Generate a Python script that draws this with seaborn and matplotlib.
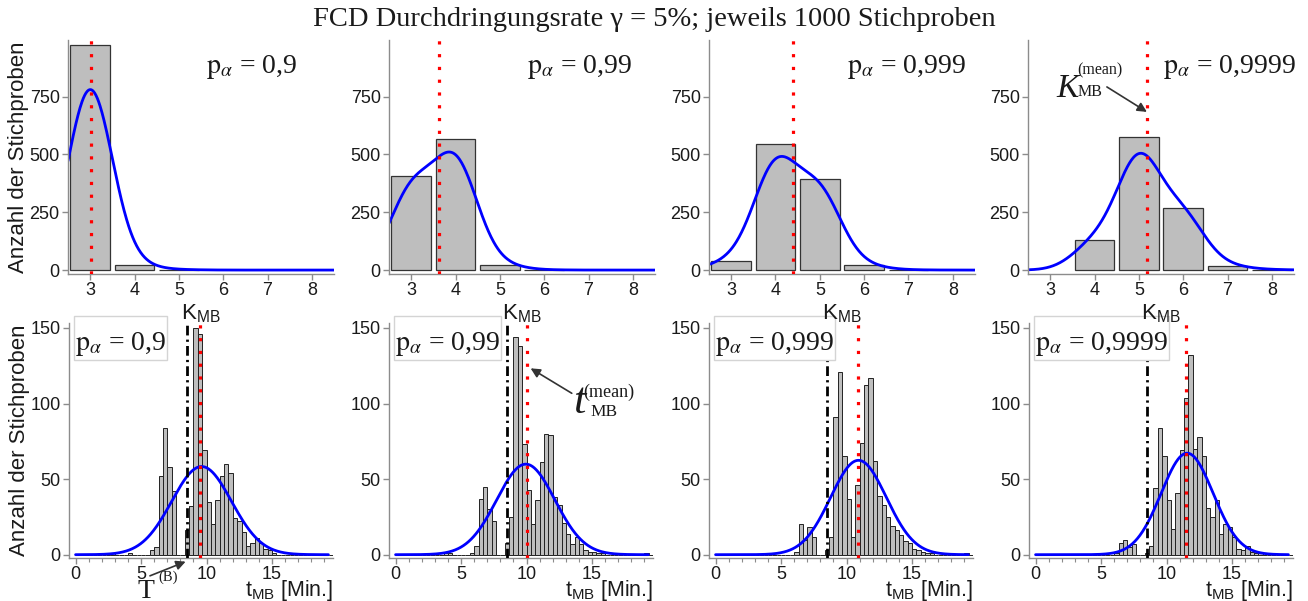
import numpy as np
import pandas as pd
import matplotlib
matplotlib.use("Agg")
import matplotlib.pyplot as plt
from matplotlib.path import Path
import seaborn as sns

# ---------------- data ----------------
title_text = "FCD Durchdringungsrate γ = 5%; jeweils 1000 Stichproben"
p_alpha = ["0,9", "0,99", "0,999", "0,9999"]

k_values = [3, 4, 5, 6, 7, 8]
k_counts_09 = [975, 23, 2, 0, 0, 0]
k_counts_099 = [408, 567, 24, 1, 0, 0]
k_counts_0999 = [40, 544, 395, 20, 1, 0]
k_counts_09999 = [0, 132, 577, 270, 19, 2]
k_counts = [k_counts_09, k_counts_099, k_counts_0999, k_counts_09999]
kde_bw = 0.5

t_binwidth = 1 / 3          # minutes (20 s bins)
t_first_bin = 17            # first listed bin starts at 17/3 min
t_counts_09 = [3, 5, 52, 84, 58, 42, 0, 0, 16, 32, 150, 146, 69, 35, 20, 36, 52, 60,
               54, 24, 22, 15, 6, 8, 11, 8, 4, 3, 1, 0, 0, 0, 0, 0, 0, 0]
t_counts_099 = [1, 6, 37, 45, 30, 22, 0, 0, 8, 25, 144, 138, 73, 43, 20, 36, 61, 80,
                79, 38, 33, 21, 14, 7, 12, 7, 3, 2, 2, 1, 1, 0, 0, 0, 0, 0]
t_counts_0999 = [0, 2, 20, 10, 18, 12, 0, 0, 3, 12, 91, 121, 65, 37, 12, 46, 74, 112,
                 117, 62, 39, 33, 25, 19, 16, 13, 9, 8, 4, 3, 2, 1, 1, 0, 0, 0]
t_counts_09999 = [0, 1, 8, 10, 5, 7, 0, 0, 1, 6, 44, 84, 65, 36, 17, 41, 69, 104,
                  132, 70, 78, 65, 31, 25, 36, 14, 20, 18, 12, 4, 3, 6, 2, 1, 1, 0]
t_counts = [t_counts_09, t_counts_099, t_counts_0999, t_counts_09999]
t_single = [[2.8, 4.2], [3.7, 4.3, 19.0], [19.0], []]
t_mean = [9.49, 10.06, 10.84, 11.47]        # red dotted lines
t_fit_mu = [9.62, 9.94, 10.91, 11.57]       # blue fitted density
t_fit_sd = [2.28, 2.22, 2.13, 1.98]
t_fit_n = 1000
T_B = 8.5

# ---------------- style ----------------
sns.set_theme(style="ticks")
plt.rcParams["font.family"] = ["Liberation Sans", "DejaVu Sans"]
plt.rcParams["mathtext.fontset"] = "custom"
plt.rcParams["mathtext.rm"] = "Liberation Sans"
plt.rcParams["mathtext.it"] = "Liberation Sans:italic"
plt.rcParams["mathtext.bf"] = "Liberation Sans:bold"

AX_COL = "#8c8c8c"
BAR_COL = "#bebebe"
TXT = "#1a1a1a"
SERIF = ["Liberation Serif", "DejaVu Serif"]
ARROW = dict(arrowstyle="-|>", color="#333333", lw=1.2, mutation_scale=14,
             shrinkA=0, shrinkB=0)

fig = plt.figure(figsize=(13.08, 6.01), dpi=100)
W, H = 1308, 601

fig.text(0.5, 1 - 20 / H, title_text, ha="center", va="center",
         fontsize=20.5, family=SERIF, color=TXT)

top_left = [68, 389, 709, 1028]
bot_left = [69, 389, 709, 1029]
top_lab_x = [0.52, 0.52, 0.52, 0.508]


def label_box(x0, y0, width, height, mutation_size):
    l = r = 0.04 * mutation_size
    t = 0.5 * mutation_size
    b = 0.06 * mutation_size
    return Path([(x0 - l, y0 - b), (x0 + width + r, y0 - b),
                 (x0 + width + r, y0 + height + t), (x0 - l, y0 + height + t),
                 (x0 - l, y0 - b)], closed=True)


def style_axis(ax):
    sns.despine(ax=ax)
    for s in ("left", "bottom"):
        ax.spines[s].set_color(AX_COL)
        ax.spines[s].set_linewidth(1.0)
    ax.tick_params(axis="both", which="major", colors=AX_COL, labelcolor=TXT,
                   labelsize=13, length=4, width=1, pad=2)


# ---------------- top row ----------------
for i in range(4):
    ax = fig.add_axes([top_left[i] / W, 1 - 274 / H, 266 / W, 234 / H], zorder=3)
    df = pd.DataFrame({"K": k_values, "n": k_counts[i]})
    df = df[df["n"] > 0]
    sns.histplot(data=df, x="K", weights="n", discrete=True, shrink=0.9,
                 color=BAR_COL, edgecolor="#333333", linewidth=0.9, alpha=1, ax=ax)
    grid = np.linspace(2.5, 8.5, 400)
    ks = np.array(k_values, float)
    ns = np.array(k_counts[i], float)
    dens = (ns[None, :] * np.exp(-0.5 * ((grid[:, None] - ks[None, :]) / kde_bw) ** 2)).sum(1)
    dens = dens / (kde_bw * np.sqrt(2 * np.pi))
    sns.lineplot(x=grid, y=dens, color="blue", lw=2, ax=ax)
    k_mean = (ks * ns).sum() / ns.sum()
    ax.axvline(k_mean, color="red", lw=2.3, ls=(0, (1, 3)), zorder=5)
    ax.set_xlim(2.5, 8.5)
    ax.set_ylim(-17, 995)
    ax.set_xticks(range(3, 9))
    ax.set_yticks([0, 250, 500, 750])
    style_axis(ax)
    ax.set_xlabel(r"K$_{\mathrm{MB}}$", fontsize=16, color=TXT, labelpad=2)
    ax.set_ylabel("Anzahl der Stichproben" if i == 0 else "", fontsize=16, color=TXT,
                  labelpad=0.5)
    ax.text(top_lab_x[i], 0.885, r"$\mathrm{p}_{\alpha}$ = " + p_alpha[i],
            transform=ax.transAxes, family=SERIF, math_fontfamily="stix", fontsize=20,
            ha="left", va="center", color=TXT)
    if i == 3:
        ax.text(3.15, 748, "K", family=SERIF, style="italic", fontsize=24, color=TXT,
                ha="left", va="baseline")
        ax.text(3.62, 846, "(mean)", family=SERIF, fontsize=11.5, color=TXT,
                ha="left", va="baseline")
        ax.text(3.62, 752, "MB", family=SERIF, fontsize=11.5, color=TXT,
                ha="left", va="baseline")
        ax.annotate("", xy=(k_mean, 684), xytext=(4.28, 792), arrowprops=ARROW)

# ---------------- bottom row ----------------
for i in range(4):
    ax = fig.add_axes([bot_left[i] / W, 1 - 558 / H, 264 / W, 235 / H], zorder=1)
    counts = np.array(t_counts[i], float)
    centers = (np.arange(t_first_bin, t_first_bin + len(counts)) + 0.5) * t_binwidth
    vals = np.concatenate([centers, np.array(t_single[i], float)])
    wts = np.concatenate([counts, np.ones(len(t_single[i]))])
    keep = wts > 0
    tdf = pd.DataFrame({"t": vals[keep], "n": wts[keep]})
    sns.histplot(data=tdf, x="t", weights="n", binwidth=t_binwidth, binrange=(0, 20),
                 color=BAR_COL, edgecolor="#222222", linewidth=0.7, alpha=1, ax=ax)
    grid = np.linspace(0, 19.3, 500)
    mu, sd = t_fit_mu[i], t_fit_sd[i]
    curve = t_fit_n * t_binwidth * np.exp(-0.5 * ((grid - mu) / sd) ** 2) / (sd * np.sqrt(2 * np.pi))
    sns.lineplot(x=grid, y=curve, color="blue", lw=2, ax=ax)
    ax.axvline(T_B, color="black", lw=2, ls=(0, (3.5, 1.5, 0.8, 1.5)), zorder=4)
    ax.axvline(t_mean[i], color="red", lw=2.3, ls=(0, (1, 3)), zorder=5)
    ax.set_xlim(-0.5, 19.65)
    ax.set_ylim(-2.2, 153.3)
    ax.set_xticks([0, 5, 10, 15])
    ax.set_xticks(np.arange(0, 20), minor=True)
    ax.set_yticks([0, 50, 100, 150])
    style_axis(ax)
    ax.tick_params(axis="x", which="minor", colors=AX_COL, length=3, width=0.8)
    ax.set_xlabel(r"t$_{\mathrm{MB}}$ [Min.]", fontsize=15.5, color=TXT, loc="right")
    ax.xaxis.set_label_coords(1.0, (558 - 578) / 235)
    ax.xaxis.label.set_verticalalignment("top")
    ax.set_ylabel("Anzahl der Stichproben" if i == 0 else "", fontsize=16, color=TXT,
                  labelpad=0.5)
    ax.text(0.022, 0.885, r"$\mathrm{p}_{\alpha}$ = " + p_alpha[i], transform=ax.transAxes,
            family=SERIF, math_fontfamily="stix", fontsize=20, ha="left", va="baseline",
            color=TXT, zorder=10, clip_on=False,
            bbox=dict(boxstyle=label_box, fc="white", ec="#d4d4d4", lw=1))
    if i == 0:
        ax.text(4.75, -28.5, "T", family=SERIF, fontsize=20, color=TXT,
                ha="left", va="baseline")
        ax.text(6.35, -17.0, "(B)", family=SERIF, fontsize=10.5, color=TXT,
                ha="left", va="baseline")
        ax.annotate("", xy=(T_B - 0.1, -4.6), xytext=(5.68, -14.0), arrowprops=ARROW,
                    annotation_clip=False)
    if i == 1:
        ax.text(13.55, 93.7, "t", family=SERIF, style="italic", fontsize=32, color=TXT,
                ha="left", va="baseline")
        ax.text(14.31, 104.3, "(mean)", family=SERIF, fontsize=13, color=TXT,
                ha="left", va="baseline")
        ax.text(14.84, 91.8, "MB", family=SERIF, fontsize=12.5, color=TXT,
                ha="left", va="baseline")
        ax.annotate("", xy=(t_mean[i] + 0.25, 123.3), xytext=(13.45, 106.8),
                    arrowprops=ARROW)

fig.savefig("out.png", dpi=100)
